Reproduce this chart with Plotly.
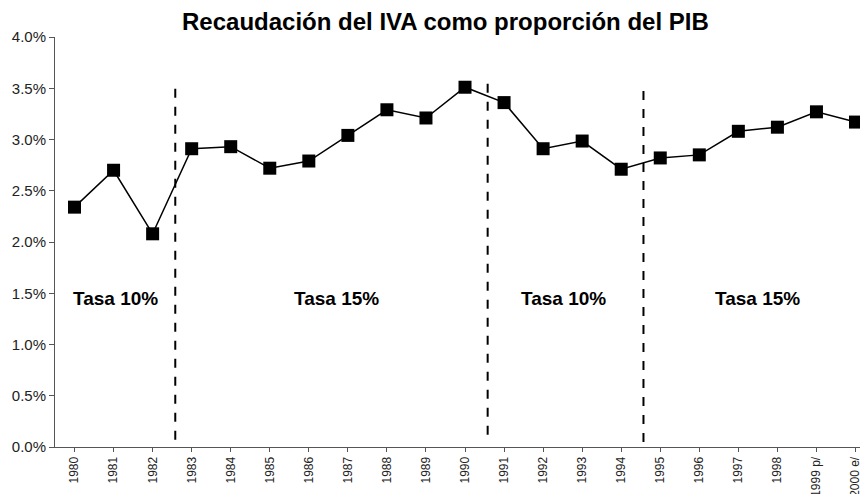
import plotly.graph_objects as go

years = ["1980", "1981", "1982", "1983", "1984", "1985", "1986", "1987", "1988", "1989",
         "1990", "1991", "1992", "1993", "1994", "1995", "1996", "1997", "1998", "1999 p/", "2000 e/"]
iva_pib = [2.34, 2.70, 2.08, 2.91, 2.93, 2.72, 2.79, 3.04, 3.29, 3.21,
           3.51, 3.36, 2.91, 2.985, 2.71, 2.82, 2.85, 3.08, 3.12, 3.27, 3.17]

# regime changes (position between categories, y extent)
cut_pos = [2.58, 10.58, 14.57]
cut_top = [3.55, 3.61, 3.55]
cut_bottom = [0.07, 0.12, 0.05]

regime_labels = ["Tasa 10%", "Tasa 15%", "Tasa 10%", "Tasa 15%"]
regime_x = [1.04, 6.70, 12.51, 17.48]
regime_y = 1.45

yticks = [0, 0.5, 1.0, 1.5, 2.0, 2.5, 3.0, 3.5, 4.0]

FONT = "Liberation Sans, Arial"

fig = go.Figure()
fig.add_trace(go.Scatter(
    x=list(range(len(years))), y=iva_pib, mode="lines+markers",
    line=dict(color="black", width=1.5),
    marker=dict(symbol="square", size=13, color="black"),
    showlegend=False, cliponaxis=False,
))

for xp, yt, yb in zip(cut_pos, cut_top, cut_bottom):
    fig.add_shape(type="line", xref="x", yref="y", x0=xp, x1=xp, y0=yb, y1=yt,
                  line=dict(color="black", width=2, dash="dash"))

for lab, xp in zip(regime_labels, regime_x):
    fig.add_annotation(x=xp, y=regime_y, xref="x", yref="y", text="<b>" + lab + "</b>",
                       showarrow=False, font=dict(family=FONT, size=19, color="black"))

fig.add_annotation(x=0.48, y=1.0366, xref="paper", yref="paper", xanchor="center", yanchor="middle",
                   text="<b>Recaudación del IVA como proporción del PIB</b>", showarrow=False,
                   borderpad=0, font=dict(family=FONT, size=24, color="black"))

# page body has an 8px margin, so the figure is sized to end at the window edge
fig.update_layout(
    width=860, height=486,
    margin=dict(l=47, r=0, t=29, b=47),
    paper_bgcolor="white", plot_bgcolor="white",
    font=dict(family=FONT, color="#222"),
)
fig.update_xaxes(
    range=[-0.5, 20.32], automargin=False,
    tickmode="array", tickvals=list(range(len(years))), ticktext=years,
    tickangle=-90, tickfont=dict(size=12, color="#222"),
    showline=True, linecolor="#555", linewidth=1,
    ticks="outside", ticklen=4, tickcolor="#555",
    showgrid=False, zeroline=False,
)
fig.update_yaxes(
    range=[0, 4.0], automargin=False,
    tickmode="array", tickvals=yticks, ticktext=["%.1f%%" % v for v in yticks],
    tickfont=dict(size=15, color="#222"),
    showline=True, linecolor="#555", linewidth=1,
    ticks="outside", ticklen=5, tickcolor="#555",
    showgrid=False, zeroline=False,
)
fig.write_html("out.html")
